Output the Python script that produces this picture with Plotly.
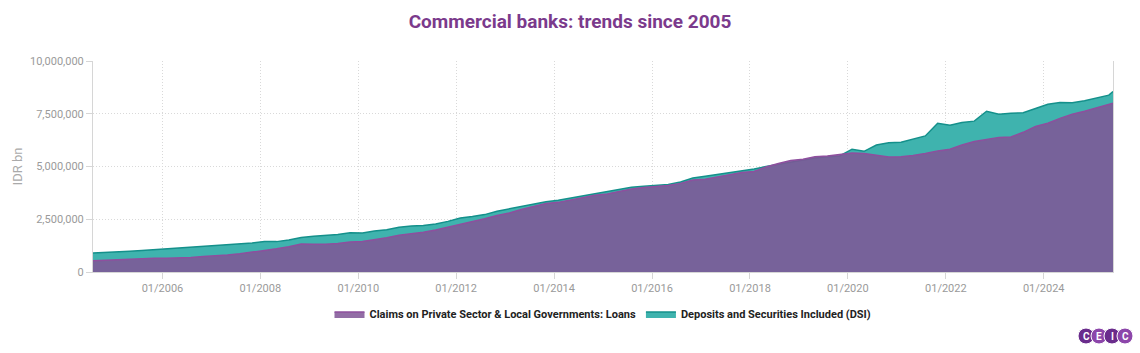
import plotly.graph_objects as go

dates = [
    "2004-08-01", "2004-11-01", "2005-02-01", "2005-05-01", "2005-08-01", "2005-11-01",
    "2006-02-01", "2006-05-01", "2006-08-01", "2006-11-01",
    "2007-02-01", "2007-05-01", "2007-08-01", "2007-11-01",
    "2008-02-01", "2008-05-01", "2008-08-01", "2008-11-01",
    "2009-02-01", "2009-05-01", "2009-08-01", "2009-11-01",
    "2010-02-01", "2010-05-01", "2010-08-01", "2010-11-01",
    "2011-02-01", "2011-05-01", "2011-08-01", "2011-11-01",
    "2012-02-01", "2012-05-01", "2012-08-01", "2012-11-01",
    "2013-02-01", "2013-05-01", "2013-08-01", "2013-11-01",
    "2014-02-01", "2014-05-01", "2014-08-01", "2014-11-01",
    "2015-02-01", "2015-05-01", "2015-08-01", "2015-11-01",
    "2016-02-01", "2016-05-01", "2016-08-01", "2016-11-01",
    "2017-02-01", "2017-05-01", "2017-08-01", "2017-11-01",
    "2018-02-01", "2018-05-01", "2018-08-01", "2018-11-01",
    "2019-02-01", "2019-05-01", "2019-08-01", "2019-11-01",
    "2020-02-01", "2020-05-01", "2020-08-01", "2020-11-01",
    "2021-02-01", "2021-05-01", "2021-08-01", "2021-11-01",
    "2022-02-01", "2022-05-01", "2022-08-01", "2022-11-01",
    "2023-02-01", "2023-05-01", "2023-08-01", "2023-11-01",
    "2024-02-01", "2024-05-01", "2024-08-01", "2024-11-01",
    "2025-02-01", "2025-05-01", "2025-06-01",
]

# values read in millions of IDR bn, scaled below
dsi_m = [
    0.90, 0.92, 0.95, 0.98, 1.02, 1.06,
    1.08, 1.11, 1.15, 1.20,
    1.24, 1.27, 1.33, 1.38,
    1.45, 1.44, 1.52, 1.64,
    1.70, 1.74, 1.78, 1.86,
    1.85, 1.94, 2.00, 2.12,
    2.18, 2.20, 2.28, 2.40,
    2.56, 2.63, 2.72, 2.88,
    3.00, 3.12, 3.24, 3.33,
    3.40, 3.50, 3.62, 3.72,
    3.83, 3.92, 4.02, 4.06,
    4.10, 4.15, 4.27, 4.45,
    4.54, 4.62, 4.72, 4.82,
    4.88, 5.00, 5.10, 5.20,
    5.30, 5.40, 5.46, 5.50,
    5.82, 5.72, 6.02, 6.12,
    6.15, 6.30, 6.45, 7.05,
    6.95, 7.08, 7.15, 7.62,
    7.48, 7.52, 7.55, 7.75,
    7.95, 8.03, 8.02, 8.12,
    8.25, 8.38, 8.55,
]

loans_m = [
    0.53, 0.56, 0.58, 0.60, 0.63, 0.65,
    0.65, 0.66, 0.69, 0.73,
    0.76, 0.80, 0.86, 0.93,
    1.02, 1.10, 1.20, 1.33,
    1.32, 1.31, 1.35, 1.42,
    1.45, 1.53, 1.62, 1.74,
    1.80, 1.88, 1.99, 2.12,
    2.24, 2.40, 2.52, 2.68,
    2.80, 2.96, 3.12, 3.25,
    3.30, 3.42, 3.52, 3.64,
    3.70, 3.82, 3.93, 4.00,
    4.04, 4.10, 4.20, 4.36,
    4.40, 4.50, 4.60, 4.72,
    4.76, 4.98, 5.14, 5.28,
    5.34, 5.46, 5.50, 5.56,
    5.64, 5.62, 5.55, 5.45,
    5.46, 5.52, 5.62, 5.74,
    5.82, 6.02, 6.18, 6.28,
    6.38, 6.40, 6.62, 6.90,
    7.05, 7.28, 7.48, 7.62,
    7.80, 7.95, 8.00,
]

dsi = [v * 1_000_000 for v in dsi_m]
loans = [v * 1_000_000 for v in loans_m]

y_ticks = [0, 2_500_000, 5_000_000, 7_500_000, 10_000_000]
x_ticks = ["2006-01-01", "2008-01-01", "2010-01-01", "2012-01-01", "2014-01-01",
           "2016-01-01", "2018-01-01", "2020-01-01", "2022-01-01", "2024-01-01"]

logo_letters = ["C", "E", "I", "C"]

fig = go.Figure()
fig.add_trace(go.Scatter(
    x=dates, y=dsi, name="Deposits and Securities Included (DSI)",
    mode="lines", fill="tozeroy",
    line=dict(color="#14908b", width=1.5),
    fillcolor="#3fb3ae", legendrank=2,
))
fig.add_trace(go.Scatter(
    x=dates, y=loans, name="Claims on Private Sector & Local Governments: Loans",
    mode="lines", fill="tozeroy",
    line=dict(color="#8e4f9e", width=1.5),
    fillcolor="rgba(128,85,150,0.86)", legendrank=1,
))

grey = "#9a9a9a"
axis_common = dict(
    showgrid=True, gridcolor="#d9d9d9", griddash="1px,2px", gridwidth=1,
    showline=True, linecolor="#d6d6d6", linewidth=1,
    ticks="outside", ticklen=6, tickcolor="#d6d6d6",
    tickfont=dict(color=grey, size=11), zeroline=False,
)
fig.update_layout(
    width=1140, height=353,
    margin=dict(l=93, r=27, t=61, b=81),
    paper_bgcolor="white", plot_bgcolor="white",
    font=dict(family="Roboto", color=grey, size=11),
    title=dict(text="<b>Commercial banks: trends since 2005</b>", x=0.5, xanchor="center",
               y=0.94, yanchor="middle",
               font=dict(family="Roboto", size=19, color="#7b3a8c")),
    showlegend=True,
    legend=dict(orientation="h", x=0.5, xanchor="center", y=-0.13, yanchor="top",
                font=dict(family="Roboto", size=11, color="#222222", weight="bold"),
                itemwidth=30, tracegroupgap=0),
    hovermode="x unified",
    xaxis=dict(type="date", range=[dates[0], dates[-1]],
               tickvals=x_ticks, tickformat="%m/%Y", **axis_common),
    yaxis=dict(range=[0, 10_000_000], tickvals=y_ticks, tickformat=",", mirror=True,
               title=dict(text="IDR bn", font=dict(color="#aaaaaa", size=13), standoff=4),
               **axis_common),
)

# CEIC logo (pixel positions converted to paper coordinates)
cx0, cy, r, step = 1086, 336, 8, 13
colors = ["#6a2c8c", "#8c46aa", "#6a2c8c", "#8c46aa"]
for i, ch in enumerate(logo_letters):
    cx = cx0 + i * step
    fig.add_shape(type="circle", xref="paper", yref="paper",
                  x0=(cx - r - 93) / 1020, x1=(cx + r - 93) / 1020,
                  y0=(272 - (cy + r)) / 211, y1=(272 - (cy - r)) / 211,
                  fillcolor=colors[i], line=dict(width=1, color="white"), layer="below")
for i, ch in enumerate(logo_letters):
    cx = cx0 + i * step
    fig.add_annotation(x=(cx - 93) / 1020, y=(272 - cy) / 211, xref="paper", yref="paper",
                       xanchor="center", yanchor="middle",
                       text="<b>" + ch + "</b>", showarrow=False,
                       font=dict(family="Roboto", size=10, color="#ffffff"))

fig.write_html("out.html")
